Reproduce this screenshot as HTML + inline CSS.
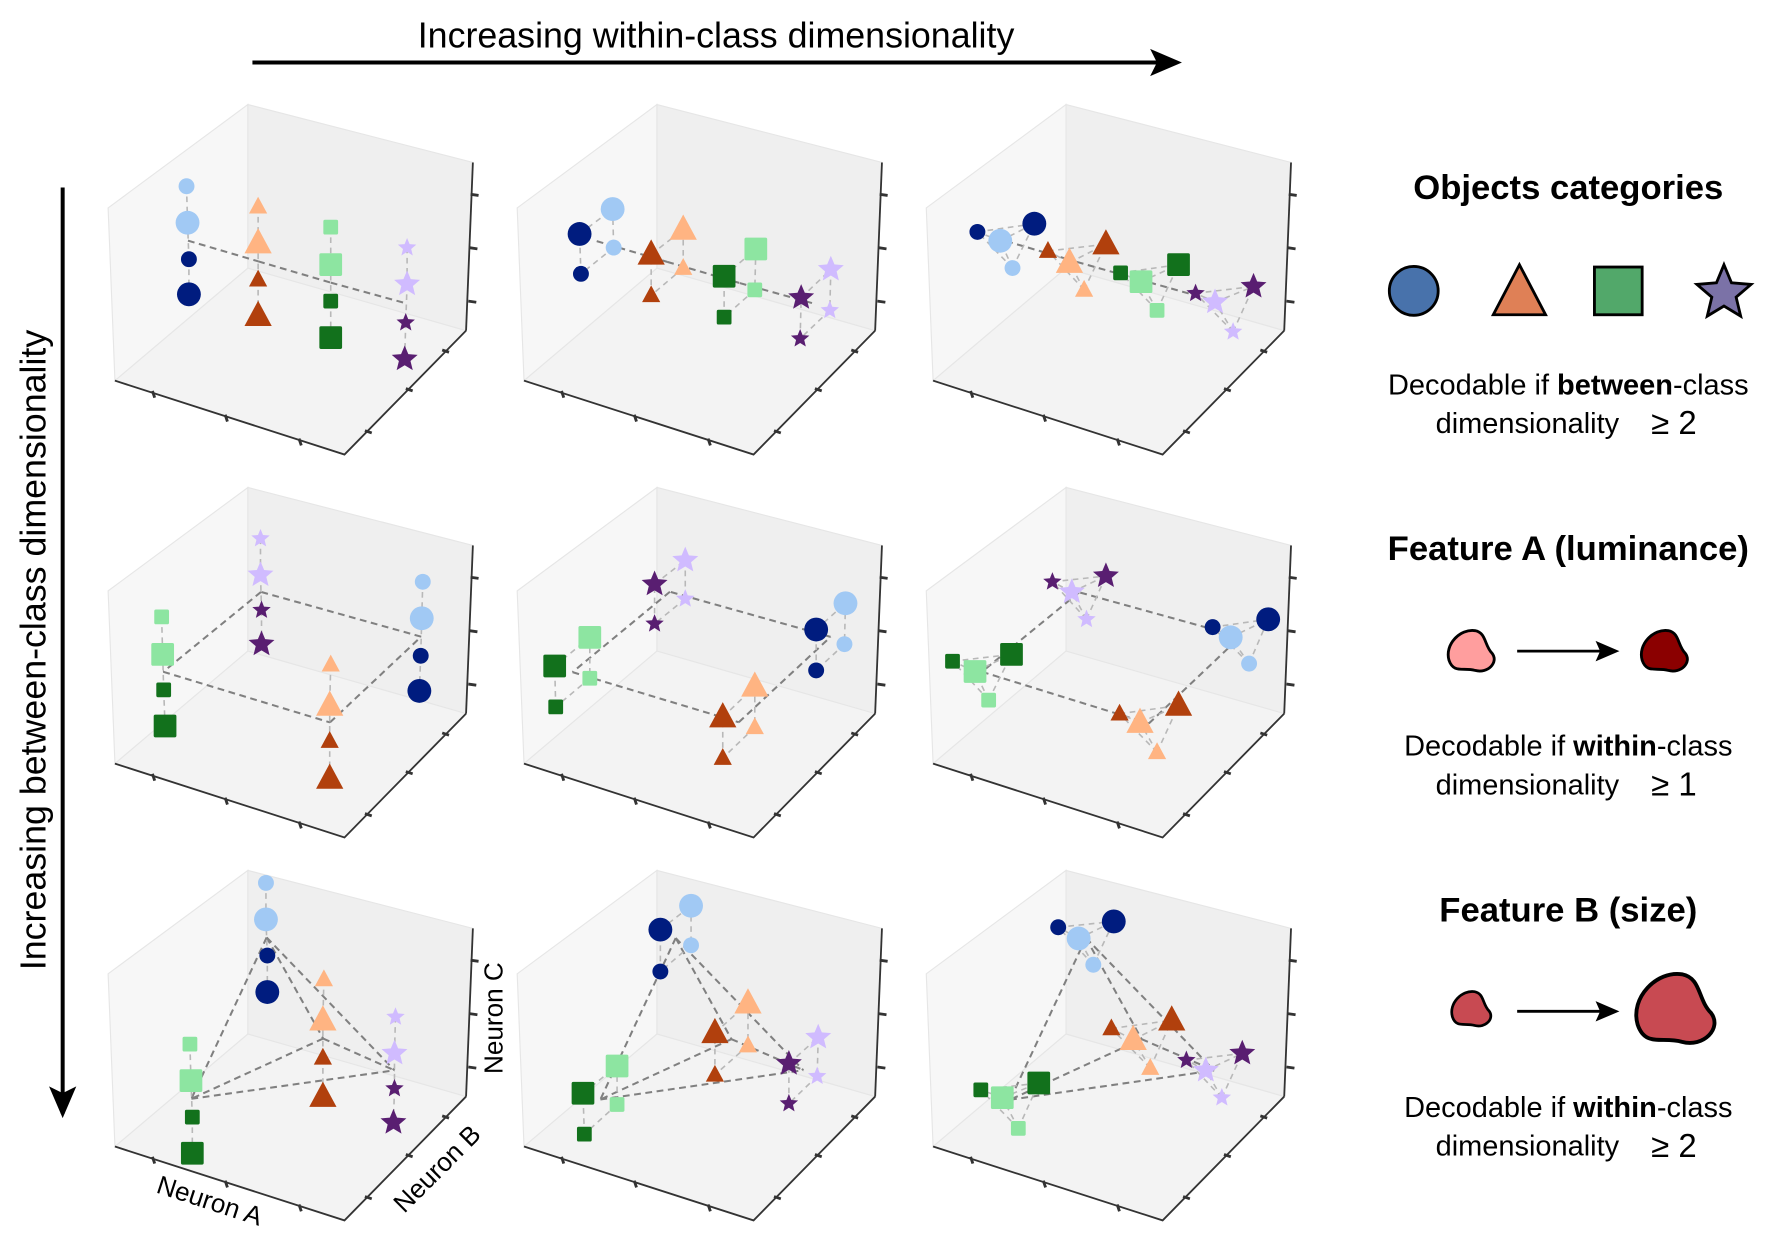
<!DOCTYPE html>
<html><head><meta charset="utf-8"><style>
html,body{margin:0;padding:0;background:#fff;}
svg{display:block;}
text{font-family:"Liberation Sans",sans-serif;}
</style></head><body>
<svg id="fig" width="1773" height="1242" viewBox="0 0 1560 1093" xmlns="http://www.w3.org/2000/svg">
<g>
<line x1="222" y1="55" x2="1036" y2="55" stroke="#000" stroke-width="3.5"/>
<polygon points="1040,55 1012,43 1018,55 1012,67" fill="#000"/>
</g>
<text x="630" y="42" font-size="31.5" text-anchor="middle">Increasing within-class dimensionality</text>
<g>
<line x1="55" y1="165" x2="55" y2="980" stroke="#000" stroke-width="3.5"/>
<polygon points="55,984 43,956 55,962 67,956" fill="#000"/>
</g>
<text transform="translate(40,572) rotate(-90)" font-size="31.5" text-anchor="middle">Increasing between-class dimensionality</text>
<g id="panels"></g>

<g>
<text x="1380" y="175" font-size="30.5" font-weight="bold" text-anchor="middle">Objects categories</text>
<circle cx="1244" cy="256" r="21.5" fill="#4872ab" stroke="#000" stroke-width="2.5"/>
<polygon points="1337,233 1360,277 1314,277" fill="#df8056" stroke="#000" stroke-width="2.5"/>
<rect x="1403" y="235" width="42" height="42" fill="#52a86a" stroke="#000" stroke-width="2.5"/>
<polygon id="lstar" fill="#7b72a7" stroke="#000" stroke-width="2.5"/>
<text x="1380" y="347" font-size="25.5" text-anchor="middle">Decodable if <tspan font-weight="bold">between</tspan>-class</text>
<text x="1344" y="381" font-size="25.5" text-anchor="middle">dimensionality</text>
<text x="1473" y="382" font-size="29" font-family="Liberation Serif,serif" text-anchor="middle">≥ 2</text>
</g>

<g>
<text x="1380" y="493" font-size="30.5" font-weight="bold" text-anchor="middle">Feature A (luminance)</text>
<path transform="translate(1295,573)" d="M -20,8 C -24,-6 -10,-20 3,-18 C 13,-16 11,-5 18,2 C 24,10 14,20 3,17 C -7,14 -16,20 -20,8 Z" fill="#ff9e9e" stroke="#000" stroke-width="2.5"/>
<line x1="1335" y1="573" x2="1415" y2="573" stroke="#000" stroke-width="2.5"/>
<polygon points="1425,573 1404,564 1408,573 1404,582" fill="#000"/>
<path transform="translate(1465,573)" d="M -20,8 C -24,-6 -10,-20 3,-18 C 13,-16 11,-5 18,2 C 24,10 14,20 3,17 C -7,14 -16,20 -20,8 Z" fill="#8b0000" stroke="#000" stroke-width="2.5"/>
<text x="1380" y="665" font-size="25.5" text-anchor="middle">Decodable if <tspan font-weight="bold">within</tspan>-class</text>
<text x="1344" y="699" font-size="25.5" text-anchor="middle">dimensionality</text>
<text x="1473" y="700" font-size="29" font-family="Liberation Serif,serif" text-anchor="middle">≥ 1</text>
</g>

<g>
<text x="1380" y="811" font-size="30.5" font-weight="bold" text-anchor="middle">Feature B (size)</text>
<path transform="translate(1295,888) scale(0.85)" d="M -20,8 C -24,-6 -10,-20 3,-18 C 13,-16 11,-5 18,2 C 24,10 14,20 3,17 C -7,14 -16,20 -20,8 Z" fill="#c84a52" stroke="#000" stroke-width="2.8"/>
<line x1="1335" y1="890" x2="1415" y2="890" stroke="#000" stroke-width="2.5"/>
<polygon points="1425,890 1404,881 1408,890 1404,899" fill="#000"/>
<path transform="translate(1475,888) scale(1.7)" d="M -20,8 C -24,-6 -10,-20 3,-18 C 13,-16 11,-5 18,2 C 24,10 14,20 3,17 C -7,14 -16,20 -20,8 Z" fill="#c84a52" stroke="#000" stroke-width="2"/>
<text x="1380" y="983" font-size="25.5" text-anchor="middle">Decodable if <tspan font-weight="bold">within</tspan>-class</text>
<text x="1344" y="1017" font-size="25.5" text-anchor="middle">dimensionality</text>
<text x="1473" y="1018" font-size="29" font-family="Liberation Serif,serif" text-anchor="middle">≥ 2</text>
</g>
</svg>
<script>
// sample order per class: [light-small, light-big, dark-small, dark-big]; classes: circle, triangle, square, star
const r0c0_A=[[21,21.3,21.7,21.7],[42,42,42,42],[63.3,63.3,63.3,63.3],[85.7,85.7,85.3,85]];
const r0c0_C=[[78.7,68,57.3,47],[72.7,62,51.3,40.7],[66.7,55.7,45,34.3],[60.7,50,38.7,28]];
const r0c1_A=[[26.3,26,16.7,16.3],[46.7,46.7,37.3,37.3],[67.7,68,58.7,58.7],[89.7,90,81,81.3]];
const r0c1_C=[[60.7,72,53,64.7],[54.7,66,46.7,58.7],[48.3,60.3,40.3,52.3],[42.3,54.3,34,46]];
const r0c2_A=[[23.3,19.7,13,29.7],[44.3,40,33.7,50.7],[65.7,61,55,72],[88,82.7,77,94]];
const r0c2_C=[[54.7,62.7,65.3,67.7],[48.3,56.3,59.7,61.7],[42.3,50.7,53.3,55.7],[36,44.7,47.3,49.3]];
const r1c0_A=[[90.3,90,89.7,89.3],[63.3,63,63,63],[13.7,14,14.3,14.7],[42.7,42.7,43,43]];
const r1c0_C=[[75,64.3,53.3,43],[50.7,38.7,28.3,17.3],[64.7,53.7,43.3,32.7],[87.7,77,66.7,56.7]];
const r1c1_A=[[94,94.3,85.7,85.7],[67.7,67.7,58.3,58.3],[19.3,19.3,9.3,9],[47.3,47.3,38.3,38.3]];
const r1c1_C=[[56.7,68.7,49,61],[32.3,44.3,23.3,35.3],[46.7,58.7,38.3,50.3],[70,81.3,62.7,74.3]];
const r1c2_A=[[92.7,87.3,82,98.3],[65.7,60.7,54.7,72],[16.3,12.3,5.7,23],[45,40.7,35,50.7]];
const r1c2_C=[[51,58.7,61.7,64],[25,33.7,36.3,38.7],[40.3,48.7,51.7,53.7],[64,72,75,76.7]];
const r2c0_A=[[44.3,44.3,44.7,44.7],[61.3,61,61,61],[22,22.3,22.7,22.7],[82.3,82,82,81.7]];
const r2c0_C=[[99,88.3,77.7,67],[70.7,58.7,47.7,36.3],[51.7,41,30.3,19.7],[59.7,49,38.7,28.7]];
const r2c1_A=[[49,49,40,40],[65.7,65.7,56,56],[27.3,27.3,17.7,17.3],[86,86.3,77.7,77.7]];
const r2c1_C=[[80.7,92.3,73,85.3],[51.3,63.7,42.7,55],[34,45.3,25.3,37.3],[42.3,53.7,34.3,46]];
const r2c2_A=[[47,42.7,36.7,53],[63.7,58.7,52.3,70],[25,20.3,14,31],[84.7,80,74.3,90.7]];
const r2c2_C=[[75,82.7,86,87.7],[44.7,53,56.3,58.7],[27,36,38.3,40.3],[36,44,47,49]];

const panelA=[[r0c0_A,r0c1_A,r0c2_A],[r1c0_A,r1c1_A,r1c2_A],[r2c0_A,r2c1_A,r2c2_A]];
const panelC=[[r0c0_C,r0c1_C,r0c2_C],[r1c0_C,r1c1_C,r1c2_C],[r2c0_C,r2c1_C,r2c2_C]];
const classNames=['circle','triangle','square','star'];
const lightColors=['#a1c9f4','#ffb482','#8de5a1','#d0bbff'];
const darkColors=['#001c7f','#b1400d','#12711c','#591e71'];
const sampleNames=['light-small','light-big','dark-small','dark-big'];

const NS='http://www.w3.org/2000/svg';
function el(tag,attrs,parent){const e=document.createElementNS(NS,tag);for(const k in attrs)e.setAttribute(k,attrs[k]);if(parent)parent.appendChild(e);return e;}
function xScale(a){return 101+3*a;}
function yScale(c){return 400-3*c;}
function starPts(cx,cy,R){let p=[];for(let i=0;i<10;i++){const r=i%2?R*0.45:R;const t=-Math.PI/2+i*Math.PI/5;p.push((cx+r*Math.cos(t)).toFixed(1)+','+(cy+r*Math.sin(t)).toFixed(1));}return p.join(' ');}
document.getElementById('lstar').setAttribute('points',starPts(1517,258,25));

const root=document.getElementById('panels');
for(let r=0;r<3;r++)for(let c=0;c<3;c++){
  const g=el('g',{transform:`translate(${c*360},${r*337})`},root);
  
  
  const lp=el('polygon',{points:'95,183 218,92 218,236 101,335',fill:'#f7f7f7',stroke:'#e6e6e6','stroke-width':1},g);
  
  
  const bp=el('polygon',{points:'218,92 416,143 410,291 218,236',fill:'#efefef',stroke:'#e6e6e6','stroke-width':1},g);
  
  
  const fp=el('polygon',{points:'101,335 218,236 410,291 303,400',fill:'#f3f3f3',stroke:'#e6e6e6','stroke-width':1},g);
  
  
  const ax=el('polyline',{points:'101,335 303,400 410,291',fill:'none',stroke:'#333','stroke-width':1.6},g);
  
  
  const az=el('line',{x1:416,y1:143,x2:410,y2:291,stroke:'#333','stroke-width':1.6},g);
  
  
  [[135,347],[199,368],[264,389]].forEach(t=>{const k=el('line',{x1:t[0]-1,y1:t[1]-3,x2:t[0]+1,y2:t[1]+3,stroke:'#333','stroke-width':2.5},g);
    
    });
  [[324,380],[360,343],[392,309]].forEach(t=>{const k=el('line',{x1:t[0]-3,y1:t[1]-1,x2:t[0]+3,y2:t[1]+1,stroke:'#333','stroke-width':2.5},g);
    
    });
  [[415,171],[414,218],[413,265]].forEach(t=>{const k=el('line',{x1:t[0]-1,y1:t[1],x2:t[0]+6,y2:t[1]+1,stroke:'#333','stroke-width':2.5},g);
    
    });

  const A=panelA[r][c], C=panelC[r][c];
  const centers=A.map((arr,k)=>[arr.reduce((s,v)=>s+v,0)/4, C[k].reduce((s,v)=>s+v,0)/4]);
  let pairs=[];
  if(r===0) pairs=[[0,1],[1,2],[2,3]];
  else if(r===1) pairs=[[0,3],[3,2],[2,1],[1,0]];
  else pairs=[[0,1],[0,2],[0,3],[1,2],[1,3],[2,3]];
  pairs.forEach(p=>{
    const ln=el('line',{x1:xScale(centers[p[0]][0]),y1:yScale(centers[p[0]][1]),x2:xScale(centers[p[1]][0]),y2:yScale(centers[p[1]][1]),stroke:'#808080','stroke-width':1.8,'stroke-dasharray':'6,4'},g);
    
    
  });
  for(let k=0;k<4;k++){
    let wp;
    if(c===0) wp=[[0,1],[1,2],[2,3]];
    else if(c===1) wp=[[1,0],[0,2],[2,3],[3,1]];
    else wp=[[0,1],[0,2],[0,3],[1,2],[1,3],[2,3]];
    wp.forEach(p=>{
      const ln=el('line',{x1:xScale(A[k][p[0]]),y1:yScale(C[k][p[0]]),x2:xScale(A[k][p[1]]),y2:yScale(C[k][p[1]]),stroke:'#b8b8b8','stroke-width':1.4,'stroke-dasharray':'5,4'},g);
      
      
    });
  }
  for(let k=0;k<4;k++)for(let s=0;s<4;s++){
    const x=xScale(A[k][s]), y=yScale(C[k][s]);
    const big=(s===1||s===3);
    const col=(s<2)?lightColors[k]:darkColors[k];
    let m;
    if(k===0){m=el('circle',{cx:x,cy:y,r:big?10.5:7,fill:col},g);}
    else if(k===1){const h=big?12:8;m=el('polygon',{points:`${x},${y-h*1.1} ${x+h},${y+h*0.75} ${x-h},${y+h*0.75}`,fill:col},g);}
    else if(k===2){const h=big?10:6.5;m=el('rect',{x:x-h,y:y-h,width:2*h,height:2*h,rx:1.5,fill:col},g);}
    else {m=el('polygon',{points:starPts(x,y,big?12:8.5),fill:col},g);}
    
    
  }
  if(r===2&&c===0){
    const t1=el('text',{transform:'translate(182,390) rotate(18)','font-size':23,'text-anchor':'middle'},g);
    t1.textContent='Neuron A';
    
    
    const t2=el('text',{transform:'translate(390,360) rotate(-45)','font-size':23,'text-anchor':'middle'},g);
    t2.textContent='Neuron B';
    
    
    const t3=el('text',{transform:'translate(442,222) rotate(-90)','font-size':23,'text-anchor':'middle'},g);
    t3.textContent='Neuron C';
    
    
  }
}
</script>
</body></html>
